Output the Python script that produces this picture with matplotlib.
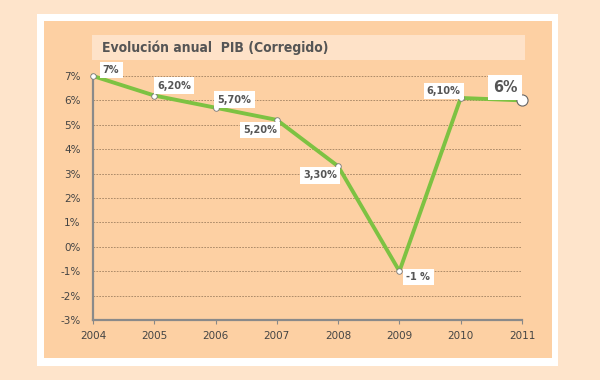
import matplotlib
matplotlib.use("Agg")
import matplotlib.pyplot as plt
from matplotlib.patches import Rectangle
from matplotlib import font_manager

years = [2004, 2005, 2006, 2007, 2008, 2009, 2010, 2011]
values = [7.0, 6.2, 5.7, 5.2, 3.3, -1.0, 6.1, 6.0]
labels = ["7%", "6,20%", "5,70%", "5,20%", "3,30%", "-1 %", "6,10%", "6%"]
yticks = [-3, -2, -1, 0, 1, 2, 3, 4, 5, 6, 7]
title = "Evolución anual  PIB (Corregido)"

names = {f.name for f in font_manager.fontManager.ttflist}
cond = "Liberation Sans Narrow" if "Liberation Sans Narrow" in names else "DejaVu Sans"

W, H = 600, 380
fig = plt.figure(figsize=(6, 3.8), dpi=100)
fig.patch.set_facecolor("#FEE4CB")

def rect(x0, y0, x1, y1, color, z=0):
    fig.patches.append(Rectangle((x0 / W, 1 - y1 / H), (x1 - x0) / W, (y1 - y0) / H,
                                 transform=fig.transFigure, facecolor=color,
                                 edgecolor="none", zorder=z))

rect(37, 14, 558, 366, "white", 0)
rect(44, 21, 552, 358, "#FDD0A3", 1)
rect(92, 35, 525, 60, "#FEE2C8", 2)
fig.text(102 / W, 1 - 47.5 / H, title, fontsize=10, fontweight="bold",
         family=cond, stretch="condensed", color="#555555", va="center", ha="left", zorder=3)

ax = fig.add_axes([93 / W, 1 - 320 / H, (522 - 93) / W, (320 - 76) / H])
ax.set_zorder(10)
ax.set_facecolor("none")
ax.set_xlim(2004, 2011)
ax.set_ylim(-3, 7)
ax.set_yticks(yticks)
ax.set_yticklabels([f"{t}%" for t in yticks])
ax.set_xticks(years)
ax.tick_params(axis="both", labelsize=7.5, colors="#888888", labelcolor="#444444")
ax.tick_params(axis="y", length=0, pad=9)
ax.tick_params(axis="x", length=3, direction="out", pad=5)
for t in ax.get_xticklabels() + ax.get_yticklabels():
    t.set_family("DejaVu Sans")
ax.grid(axis="y", linestyle=(0, (2, 1.5)), color="#A08060", linewidth=0.6)
ax.set_axisbelow(True)
for s in ["top", "right"]:
    ax.spines[s].set_visible(False)
ax.spines["left"].set_color("#8A8A8A")
ax.spines["left"].set_linewidth(1.6)
ax.spines["bottom"].set_color("#8A8A8A")
ax.spines["bottom"].set_linewidth(1.6)

ax.plot(years, values, color="#7DC242", linewidth=2.8, zorder=3, clip_on=False)
ax.plot(years[:-1], values[:-1], "o", ms=4, mfc="white", mec="#777777", mew=0.6,
        zorder=4, clip_on=False)
ax.plot(years[-1:], values[-1:], "o", ms=8, mfc="white", mec="#666666", mew=0.8,
        zorder=4, clip_on=False)

offsets = [(18, 6), (20, 10), (19, 8), (-17, -10), (-18, -9), (19, -6), (-17, 7), (-17, 13)]
for x, y, lab, (dx, dy) in zip(years, values, labels, offsets):
    big = lab == "6%"
    ax.annotate(lab, (x, y), xytext=(dx * 0.72, dy * 0.72), textcoords="offset points",
                ha="center", va="center", fontsize=11.5 if big else 7.8,
                fontweight="bold", family=cond, stretch="condensed", color="#555555", zorder=5,
                bbox=dict(boxstyle="square,pad=0.3", fc="white", ec="none"),
                annotation_clip=False)

fig.savefig("out.png", dpi=100, facecolor=fig.get_facecolor())
